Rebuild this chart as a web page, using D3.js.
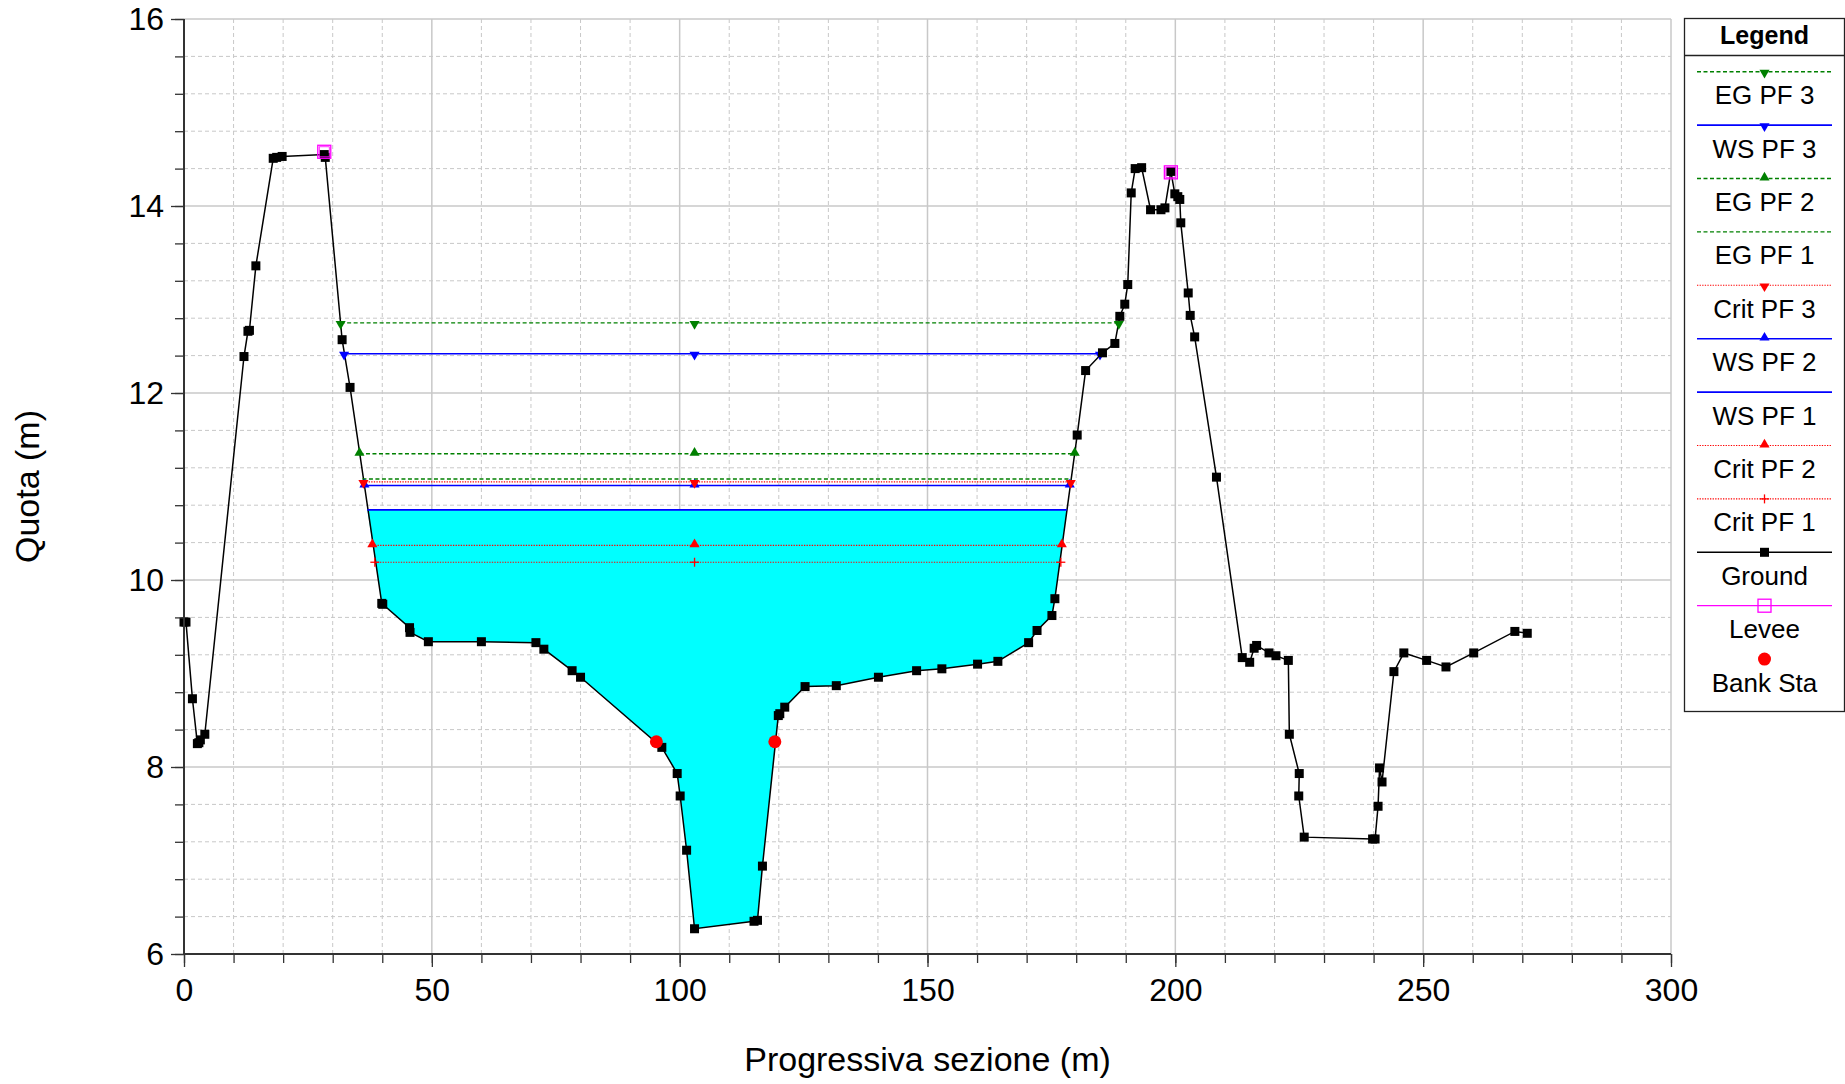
<!DOCTYPE html>
<html>
<head>
<meta charset="utf-8">
<script src="https://cdn.jsdelivr.net/npm/d3@7"></script>
<style>
  html, body { margin: 0; padding: 0; background: #fff; }
  svg { display: block; font-family: "Liberation Sans", Arial, sans-serif; }
</style>
</head>
<body>
<svg id="chart" width="1845" height="1084"></svg>
<script>
// ---------------- DATA ----------------
const groundX = [0.0, 0.4, 1.7, 2.7, 3.0, 3.3, 4.2, 12.1, 12.9, 13.2, 14.5, 18.0, 18.7, 19.8, 28.3, 28.5,
  31.9, 33.5, 39.9, 40.1, 45.5, 45.6, 49.3, 60.0, 71.0, 72.6, 78.3, 80.0, 96.4, 99.5, 100.1, 101.4,
  103.0, 115.0, 115.7, 116.7, 119.9, 120.2, 121.2, 125.3, 131.6, 140.1, 147.8, 152.9, 160.1, 164.2,
  170.4, 172.1, 175.1, 175.7, 180.2, 181.9, 185.3, 187.8, 188.8, 189.8, 190.4, 191.1, 191.9, 193.2,
  195.0, 197.1, 197.9, 199.1, 199.9, 200.5, 200.9, 201.1, 202.6, 203.0, 203.9, 208.3, 213.5, 215.0,
  215.9, 216.4, 218.9, 220.3, 222.8, 223.0, 225.0, 224.9, 226.0, 239.8, 240.3, 240.9, 241.2, 241.7,
  244.1, 246.1, 250.7, 254.6, 260.2, 268.5, 271.0];
const groundY = [9.55, 9.55, 8.73, 8.25, 8.26, 8.29, 8.35, 12.39, 12.66, 12.67, 13.36, 14.51, 14.52, 14.53, 14.55, 14.52,
  12.57, 12.06, 9.75, 9.74, 9.49, 9.44, 9.34, 9.34, 9.33, 9.26, 9.03, 8.96, 8.21, 7.93, 7.69, 7.11,
  6.27, 6.35, 6.36, 6.94, 8.55, 8.57, 8.64, 8.86, 8.87, 8.96, 9.03, 9.05, 9.10, 9.13,
  9.33, 9.46, 9.62, 9.80, 11.55, 12.24, 12.43, 12.53, 12.82, 12.95, 13.16, 14.14, 14.40, 14.41,
  13.96, 13.96, 13.98, 14.37, 14.13, 14.10, 14.07, 13.82, 13.07, 12.83, 12.60, 11.10, 9.17, 9.12,
  9.27, 9.30, 9.22, 9.19, 9.14, 8.35, 7.93, 7.69, 7.25, 7.23, 7.23, 7.58, 7.99, 7.84,
  9.02, 9.22, 9.14, 9.07, 9.22, 9.45, 9.43];

const profileNames = ["EG PF 3", "WS PF 3", "EG PF 2", "EG PF 1", "Crit PF 3", "WS PF 2", "WS PF 1", "Crit PF 2", "Crit PF 1"];
const profileElev  = [12.75, 12.42, 11.35, 11.08, 11.05, 11.01, 10.75, 10.37, 10.19];
const profileLeft  = [31.6, 32.3, 35.4, 36.0, 36.2, 36.4, 37.0, 38.0, 38.5];
const profileRight = [188.6, 184.8, 179.7, 179.0, 178.9, 178.7, 178.1, 177.1, 176.9];
const profileMidStation = 103.0;

const leveeX = [28.3, 199.1];
const leveeY = [14.58, 14.36];
const bankX = [95.3, 119.2];
const bankY = [8.27, 8.27];

const xMajorTicks = [0, 50, 100, 150, 200, 250, 300];
const yMajorTicks = [6, 8, 10, 12, 14, 16];
const xMinorTicks = d3.range(0, 301, 10);
const yMinorTicks = d3.range(0, 26).map(i => +(6 + i * 0.4).toFixed(1));

const legendNames = ["EG PF 3", "WS PF 3", "EG PF 2", "EG PF 1", "Crit PF 3", "WS PF 2", "WS PF 1", "Crit PF 2", "Crit PF 1", "Ground", "Levee", "Bank Sta"];

// ---------------- STYLES ----------------
const GREEN = "#008000", BLUE = "#0000ff", RED = "#ff0000", MAGENTA = "#ff00ff";
const styles = {
  "EG PF 3":   {color: GREEN, dash: "4,2.5", width: 1.4, marker: "down"},
  "WS PF 3":   {color: BLUE,  dash: null,    width: 1.6, marker: "down"},
  "EG PF 2":   {color: GREEN, dash: "4,2.5", width: 1.4, marker: "up"},
  "EG PF 1":   {color: GREEN, dash: "4,2.5", width: 1.4, marker: null},
  "Crit PF 3": {color: RED,   dash: "1.3,1.3", width: 1.1, marker: "down"},
  "WS PF 2":   {color: BLUE,  dash: null,    width: 1.6, marker: "up"},
  "WS PF 1":   {color: BLUE,  dash: null,    width: 1.6, marker: null},
  "Crit PF 2": {color: RED,   dash: "1.3,1.3", width: 1.1, marker: "up"},
  "Crit PF 1": {color: RED,   dash: "1.3,1.3", width: 1.1, marker: "plus"}
};

// ---------------- LAYOUT ----------------
const svg = d3.select("#chart");
const X0 = 184, X1 = 1671, Y0 = 954, Y1 = 19;
const x = d3.scaleLinear().domain([0, 300]).range([X0, X1]);
const y = d3.scaleLinear().domain([6, 16]).range([Y0, Y1]);

const gridColor = "#c8c8c8";
const g = svg.append("g");

// minor grid
g.selectAll(".vminor").data(xMinorTicks.filter(v => v % 50 !== 0)).join("line")
  .attr("x1", d => x(d)).attr("x2", d => x(d)).attr("y1", Y1).attr("y2", Y0)
  .attr("stroke", gridColor).attr("stroke-width", 1).attr("stroke-dasharray", "4,3");
g.selectAll(".hminor").data(yMinorTicks.filter(v => Math.abs(v % 2) > 0.01 && Math.abs(v % 2 - 2) > 0.01)).join("line")
  .attr("x1", X0).attr("x2", X1).attr("y1", d => y(d)).attr("y2", d => y(d))
  .attr("stroke", gridColor).attr("stroke-width", 1).attr("stroke-dasharray", "4,3");
// major grid
g.selectAll(".vmajor").data(xMajorTicks.slice(1)).join("line")
  .attr("x1", d => x(d)).attr("x2", d => x(d)).attr("y1", Y1).attr("y2", Y0)
  .attr("stroke", gridColor).attr("stroke-width", 1.5);
g.selectAll(".hmajor").data(yMajorTicks.slice(1)).join("line")
  .attr("x1", X0).attr("x2", X1).attr("y1", d => y(d)).attr("y2", d => y(d))
  .attr("stroke", gridColor).attr("stroke-width", 1.5);

// ---------------- WATER FILL (WS PF 1) ----------------
const ground = groundX.map((v, i) => ({x: v, y: groundY[i]}));
function groundAt(xv) {
  for (let i = 0; i < ground.length - 1; i++) {
    const a = ground[i], b = ground[i + 1];
    if ((xv >= a.x && xv <= b.x) && b.x !== a.x) return a.y + (xv - a.x) / (b.x - a.x) * (b.y - a.y);
  }
  return null;
}
const wsIdx = profileNames.indexOf("WS PF 1");
const wsL = profileLeft[wsIdx], wsR = profileRight[wsIdx], wsE = profileElev[wsIdx];
const fillPts = [{x: wsL, y: groundAt(wsL)}]
  .concat(ground.filter(p => p.x > wsL && p.x < wsR))
  .concat([{x: wsR, y: groundAt(wsR)}]);
svg.append("path").datum(fillPts)
  .attr("d", d3.area().x(d => x(d.x)).y0(d => y(Math.min(d.y, wsE))).y1(y(wsE)))
  .attr("fill", "#00ffff").attr("stroke", "none");

// ---------------- GROUND ----------------
svg.append("path").datum(ground)
  .attr("d", d3.line().x(d => x(d.x)).y(d => y(d.y)))
  .attr("fill", "none").attr("stroke", "#000").attr("stroke-width", 1.5);

// ---------------- MARKERS ----------------
function drawMarker(sel, type, cx, cy, color) {
  if (type === "up") {
    sel.append("path").attr("d", d3.symbol().type(d3.symbolTriangle).size(44)())
      .attr("transform", `translate(${cx},${cy - 1})`).attr("fill", color);
  } else if (type === "down") {
    sel.append("path").attr("d", d3.symbol().type(d3.symbolTriangle).size(44)())
      .attr("transform", `translate(${cx},${cy + 1}) rotate(180)`).attr("fill", color);
  } else if (type === "plus") {
    sel.append("line").attr("x1", cx - 4.5).attr("x2", cx + 4.5).attr("y1", cy).attr("y2", cy).attr("stroke", color).attr("stroke-width", 1.3);
    sel.append("line").attr("x1", cx).attr("x2", cx).attr("y1", cy - 4.5).attr("y2", cy + 4.5).attr("stroke", color).attr("stroke-width", 1.3);
  } else if (type === "square") {
    sel.append("rect").attr("x", cx - 4.5).attr("y", cy - 4.5).attr("width", 9).attr("height", 9).attr("fill", color);
  } else if (type === "levee") {
    sel.append("rect").attr("x", cx - 6.5).attr("y", cy - 6.5).attr("width", 13).attr("height", 13)
      .attr("fill", "none").attr("stroke", color).attr("stroke-width", 1.3);
    sel.append("rect").attr("x", cx - 5).attr("y", cy - 5).attr("width", 10).attr("height", 10)
      .attr("fill", "none").attr("stroke", color).attr("stroke-width", 0.8);
  } else if (type === "circle") {
    sel.append("circle").attr("cx", cx).attr("cy", cy).attr("r", 6.5).attr("fill", color);
  }
}

// ---------------- PROFILE LINES ----------------
const profG = svg.append("g");
profileNames.slice().reverse().forEach(name => {
  const i = profileNames.indexOf(name);
  const st = styles[name];
  profG.append("line")
    .attr("x1", x(profileLeft[i])).attr("x2", x(profileRight[i]))
    .attr("y1", y(profileElev[i])).attr("y2", y(profileElev[i]))
    .attr("stroke", st.color).attr("stroke-width", st.width)
    .attr("stroke-dasharray", st.dash);
});
// ground markers
const gm = svg.append("g");
ground.forEach(p => drawMarker(gm, "square", x(p.x), y(p.y), "#000"));
// profile markers
profileNames.slice().reverse().forEach(name => {
  const i = profileNames.indexOf(name);
  const st = styles[name];
  if (!st.marker) return;
  [profileLeft[i], profileMidStation, profileRight[i]].forEach(sx =>
    drawMarker(profG, st.marker, x(sx), y(profileElev[i]), st.color));
});
// levee
const lv = svg.append("g");
leveeX.forEach((v, i) => drawMarker(lv, "levee", x(v), y(leveeY[i]), MAGENTA));
// bank stations
bankX.forEach((v, i) => drawMarker(lv, "circle", x(v), y(bankY[i]), RED));

// ---------------- AXES ----------------
const axG = svg.append("g");
const axisColor = "#333";
axG.append("g").attr("transform", `translate(0,${Y0})`)
  .call(d3.axisBottom(x).tickValues(xMinorTicks).tickSize(9).tickFormat(""))
  .call(s => s.select(".domain").remove())
  .call(s => s.selectAll("line").attr("stroke", axisColor).attr("stroke-width", 1.3));
axG.append("g").attr("transform", `translate(${X0},0)`)
  .call(d3.axisLeft(y).tickValues(yMinorTicks).tickSize(9).tickFormat(""))
  .call(s => s.select(".domain").remove())
  .call(s => s.selectAll("line").attr("stroke", axisColor).attr("stroke-width", 1.3));
axG.append("g").attr("transform", `translate(0,${Y0})`)
  .call(d3.axisBottom(x).tickValues(xMajorTicks).tickSize(13).tickPadding(11).tickFormat(d3.format("d")))
  .call(s => s.select(".domain").attr("stroke", axisColor).attr("stroke-width", 2).attr("d", `M${X0},0H${X1}`))
  .call(s => s.selectAll("line").attr("stroke", axisColor).attr("stroke-width", 1.3))
  .call(s => s.selectAll("text").attr("font-size", 32).attr("fill", "#000").attr("font-family", "Liberation Sans, Arial, sans-serif"));
axG.append("g").attr("transform", `translate(${X0},0)`)
  .call(d3.axisLeft(y).tickValues(yMajorTicks).tickSize(13).tickPadding(7).tickFormat(d3.format("d")))
  .call(s => s.select(".domain").attr("stroke", axisColor).attr("stroke-width", 2).attr("d", `M0,${Y0}V${Y1}`))
  .call(s => s.selectAll("line").attr("stroke", axisColor).attr("stroke-width", 1.3))
  .call(s => s.selectAll("text").attr("font-size", 32).attr("fill", "#000").attr("font-family", "Liberation Sans, Arial, sans-serif"));

// axis titles
svg.append("text").attr("x", (X0 + X1) / 2).attr("y", 1071).attr("text-anchor", "middle")
  .attr("font-size", 34).attr("fill", "#000").text("Progressiva sezione (m)");
svg.append("text").attr("transform", `translate(39,${(Y0 + Y1) / 2}) rotate(-90)`).attr("text-anchor", "middle")
  .attr("font-size", 34).attr("fill", "#000").text("Quota (m)");

// ---------------- LEGEND ----------------
const lg = svg.append("g");
const LX = 1684.5, LY = 18.5, LW = 160, LH = 693;
lg.append("rect").attr("x", LX).attr("y", LY).attr("width", LW).attr("height", LH)
  .attr("fill", "#fff").attr("stroke", "#222").attr("stroke-width", 1.3);
lg.append("line").attr("x1", LX).attr("x2", LX + LW).attr("y1", 55.5).attr("y2", 55.5)
  .attr("stroke", "#222").attr("stroke-width", 1.3);
lg.append("text").attr("x", LX + LW / 2).attr("y", 44).attr("text-anchor", "middle")
  .attr("font-size", 25).attr("font-weight", "bold").attr("fill", "#000").text("Legend");
const lcx = LX + LW / 2;
legendNames.forEach((name, i) => {
  const ly = 71.7 + i * 53.4;
  if (styles[name]) {
    const st = styles[name];
    lg.append("line").attr("x1", 1697).attr("x2", 1832).attr("y1", ly).attr("y2", ly)
      .attr("stroke", st.color).attr("stroke-width", st.width).attr("stroke-dasharray", st.dash);
    if (st.marker) drawMarker(lg, st.marker, lcx, ly, st.color);
  } else if (name === "Ground") {
    lg.append("line").attr("x1", 1697).attr("x2", 1832).attr("y1", ly).attr("y2", ly)
      .attr("stroke", "#000").attr("stroke-width", 1.5);
    drawMarker(lg, "square", lcx, ly, "#000");
  } else if (name === "Levee") {
    lg.append("line").attr("x1", 1697).attr("x2", 1832).attr("y1", ly).attr("y2", ly)
      .attr("stroke", MAGENTA).attr("stroke-width", 1.3);
    lg.append("rect").attr("x", lcx - 6.5).attr("y", ly - 6.5).attr("width", 13).attr("height", 13)
      .attr("fill", "none").attr("stroke", MAGENTA).attr("stroke-width", 1.3);
  } else if (name === "Bank Sta") {
    drawMarker(lg, "circle", lcx, ly, RED);
  }
  lg.append("text").attr("x", lcx).attr("y", ly + 32.5).attr("text-anchor", "middle")
    .attr("font-size", 26).attr("fill", "#000").text(name);
});
</script>
</body>
</html>
